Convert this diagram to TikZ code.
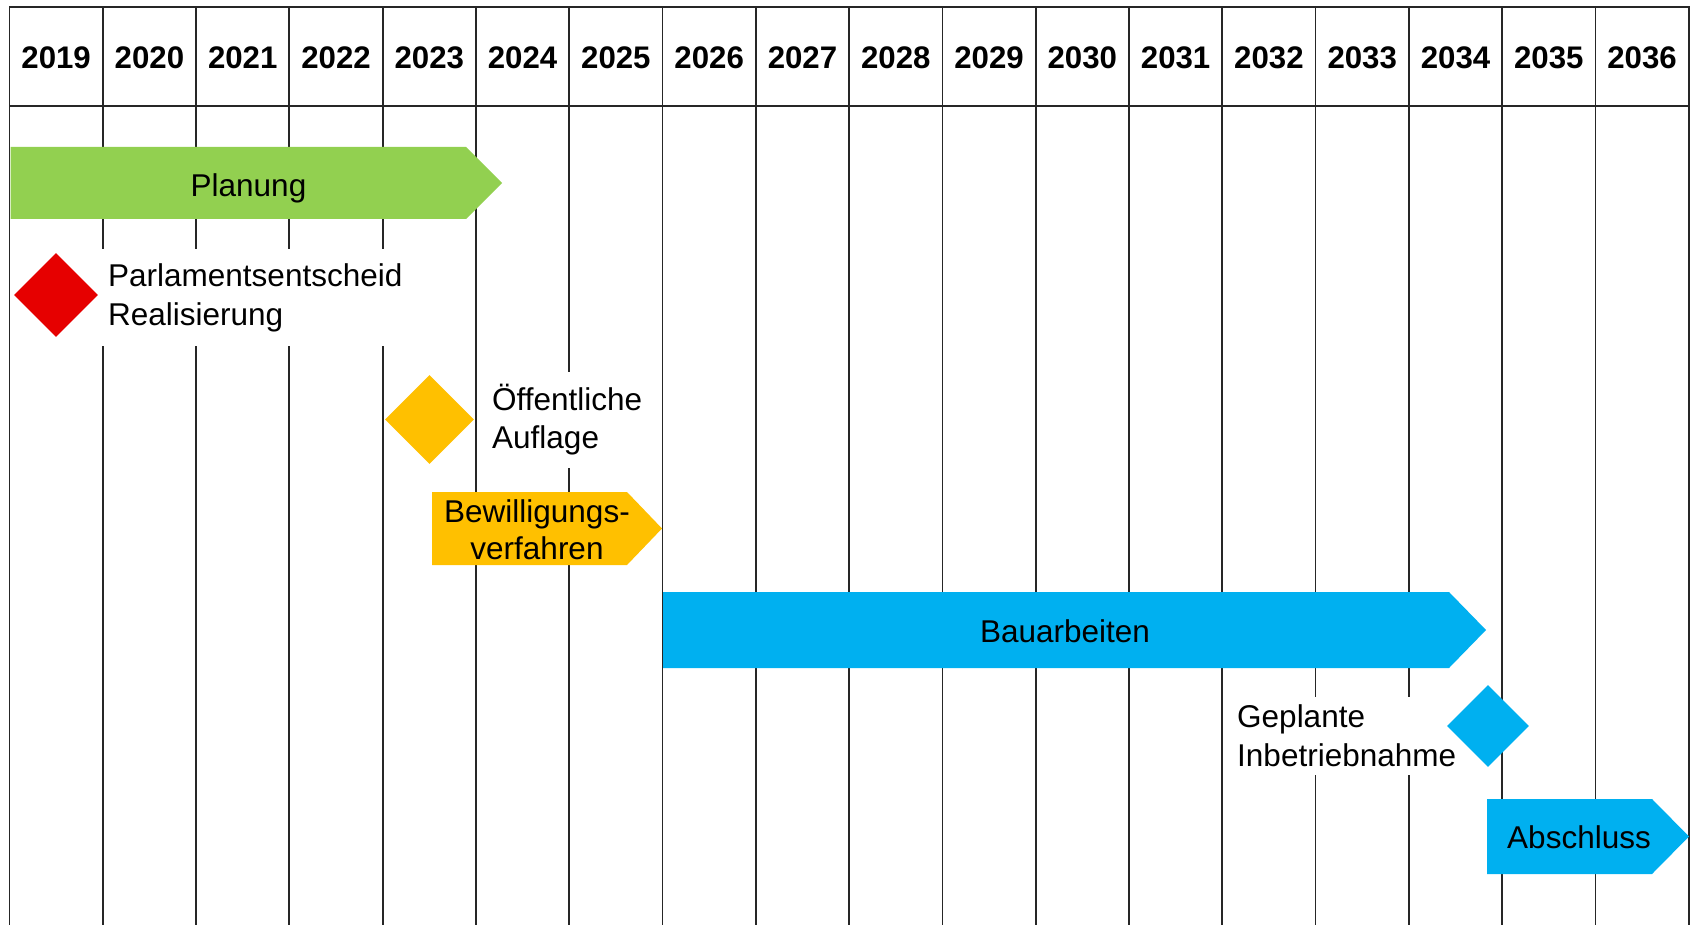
\documentclass[tikz,border=0pt]{standalone}
\usepackage{fontspec}
\setmainfont{Liberation Sans}
\usetikzlibrary{shapes.geometric}
\definecolor{planGreen}{HTML}{92D050}
\definecolor{msRed}{HTML}{E60000}
\definecolor{msYellow}{HTML}{FFC000}
\definecolor{msBlue}{HTML}{00B0F0}
\definecolor{gridCol}{HTML}{262626}
\begin{document}
\begin{tikzpicture}[x=1pt,y=-1pt,
  gridline/.style={draw=gridCol, line width=1.8pt},
  yearlabel/.style={font=\bfseries\fontsize{31.2}{36}\selectfont, anchor=base, inner sep=0pt},
  barlabel/.style={font=\fontsize{31.5}{37}\selectfont, inner sep=0pt, align=center},
  sidelabel/.style={font=\fontsize{31.5}{39}\selectfont, align=left, fill=white, inner xsep=8pt, inner ysep=0pt, anchor=west},
  milestone/.style={diamond, inner sep=0pt, aspect=1}]
\useasboundingbox (0,0) rectangle (1692,925);
\fill[white] (0,0) rectangle (1692,925);

% grid
\foreach \i in {0,...,18} \draw[gridline] (9.5+93.29*\i,7) -- (9.5+93.29*\i,925);
\draw[gridline, line cap=rect] (9.5,7) -- (1688.7,7);
\draw[gridline] (9.5,106) -- (1688.7,106);

% years
\foreach \yr [count=\i from 0] in {2019,...,2036}
  \node[yearlabel] (y\yr) at (9.5+93.29*\i+46.645, 68.3) {\yr};

% Planung
\fill[planGreen] (10.5,147) -- (466,147) -- (502,183) -- (466,219) -- (10.5,219) -- cycle;
\node[barlabel, anchor=base] (planung) at (248.5,197) {Planung};

% Parlamentsentscheid
\node[sidelabel, minimum height=96pt] (parlLbl) at (100,297.5) {Parlamentsentscheid\\Realisierung};
\node[milestone, fill=msRed, minimum width=84pt, minimum height=84pt] (parl) at (56,295) {};

% Oeffentliche Auflage
\node[sidelabel, font=\fontsize{31.5}{38}\selectfont, minimum height=96pt] (oeffLbl) at (484,420) {Öffentliche\\Auflage};
\node[milestone, fill=msYellow, minimum width=89pt, minimum height=89pt] (oeff) at (429.5,419.5) {};

% Bewilligungsverfahren
\fill[msYellow] (432,492) -- (627,492) -- (662,528.5) -- (627,565) -- (432,565) -- cycle;
\node[barlabel] (bewill) at (537,529.5) {Bewilligungs-\\verfahren};

% Bauarbeiten
\fill[msBlue] (663,592) -- (1449,592) -- (1486,630) -- (1449,668) -- (663,668) -- cycle;
\node[barlabel, anchor=base] (bau) at (1065,642) {Bauarbeiten};

% Geplante Inbetriebnahme
\node[sidelabel, minimum height=78pt] (inbLbl) at (1229,736) {Geplante\\Inbetriebnahme};
\node[milestone, fill=msBlue, minimum width=82pt, minimum height=82pt] (inb) at (1488,726) {};

% Abschluss
\fill[msBlue] (1487,799) -- (1652,799) -- (1689,836.5) -- (1652,874) -- (1487,874) -- cycle;
\node[barlabel, anchor=base] (abschluss) at (1579,848) {Abschluss};
\end{tikzpicture}
\end{document}
